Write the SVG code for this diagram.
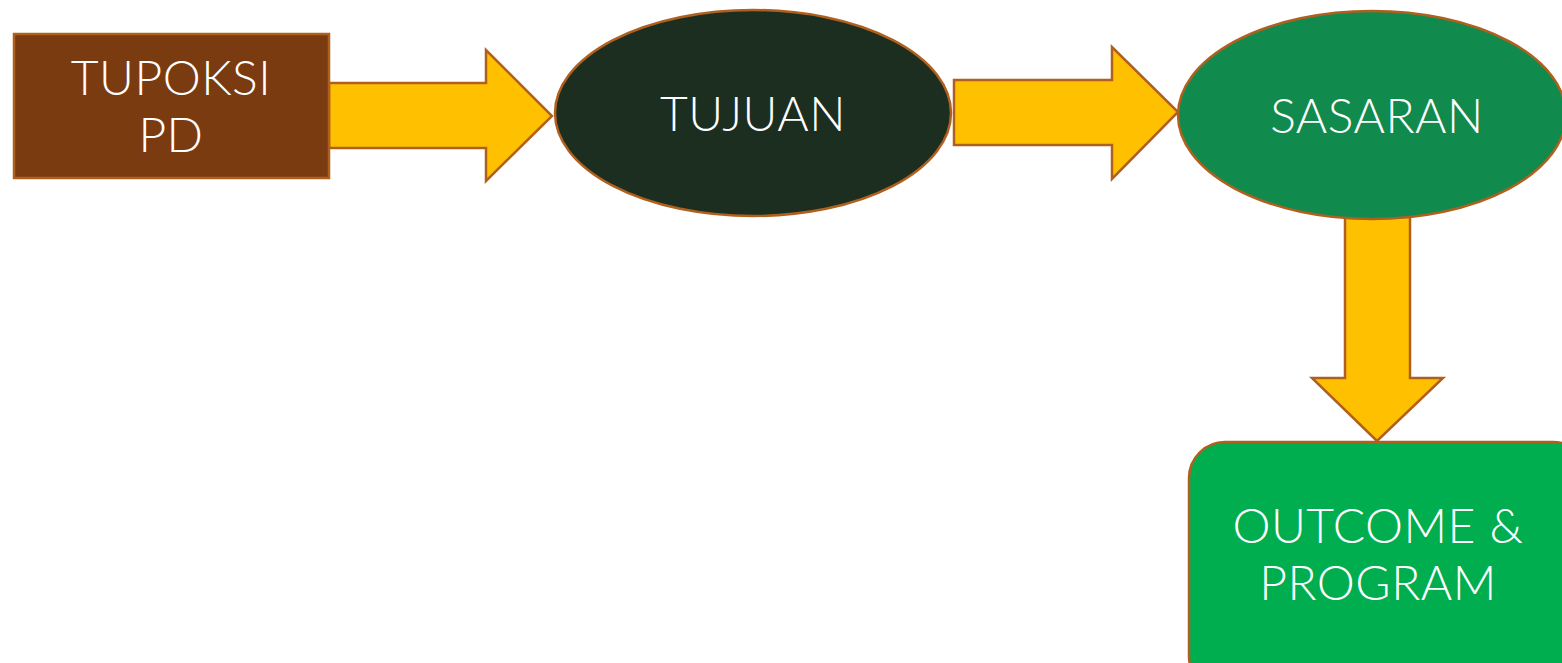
<svg xmlns="http://www.w3.org/2000/svg" width="1562" height="663" viewBox="0 0 1562 663">
  <style>
    .edge { stroke: #b0601e; stroke-width: 2.5; }
    .arrow { fill: #ffc000; stroke: #b0601e; stroke-width: 2.5; stroke-linejoin: miter; }
    .label { font-family: Lato, "Open Sans", "Liberation Sans", sans-serif; font-weight: 300; font-size: 48px; letter-spacing: 0.5px; fill: #ffffff; text-anchor: middle; }
  </style>
  <rect width="1562" height="663" fill="#ffffff"/>

  <g id="connectors">
    <polygon class="arrow" points="329,83 486,83 486,50 552,116 486,181 486,148 329,148"/>
    <polygon class="arrow" points="954,80 1112,80 1112,47 1178,112 1112,179 1112,145 954,145"/>
    <polygon class="arrow" points="1345,217 1410,217 1410,378 1443,378 1377,441 1312,378 1345,378"/>
  </g>

  <g id="node-tupoksi">
    <rect class="edge" x="14" y="34" width="315" height="144" fill="#7b3b10"/>
    <text class="label" x="171" y="95">TUPOKSI</text>
    <text class="label" x="171" y="152">PD</text>
  </g>

  <g id="node-tujuan">
    <ellipse class="edge" cx="753" cy="113" rx="198" ry="103" fill="#1c2e20"/>
    <text class="label" x="753" y="131">TUJUAN</text>
  </g>

  <g id="node-sasaran">
    <ellipse class="edge" cx="1372" cy="115" rx="194" ry="104" fill="#118a4e"/>
    <text class="label" x="1377" y="133">SASARAN</text>
  </g>

  <g id="node-outcome">
    <rect class="edge" x="1189" y="442" width="400" height="250" rx="36" ry="36" fill="#00ae4f"/>
    <text class="label" x="1378" y="543">OUTCOME &amp;</text>
    <text class="label" x="1378" y="600">PROGRAM</text>
  </g>
</svg>
